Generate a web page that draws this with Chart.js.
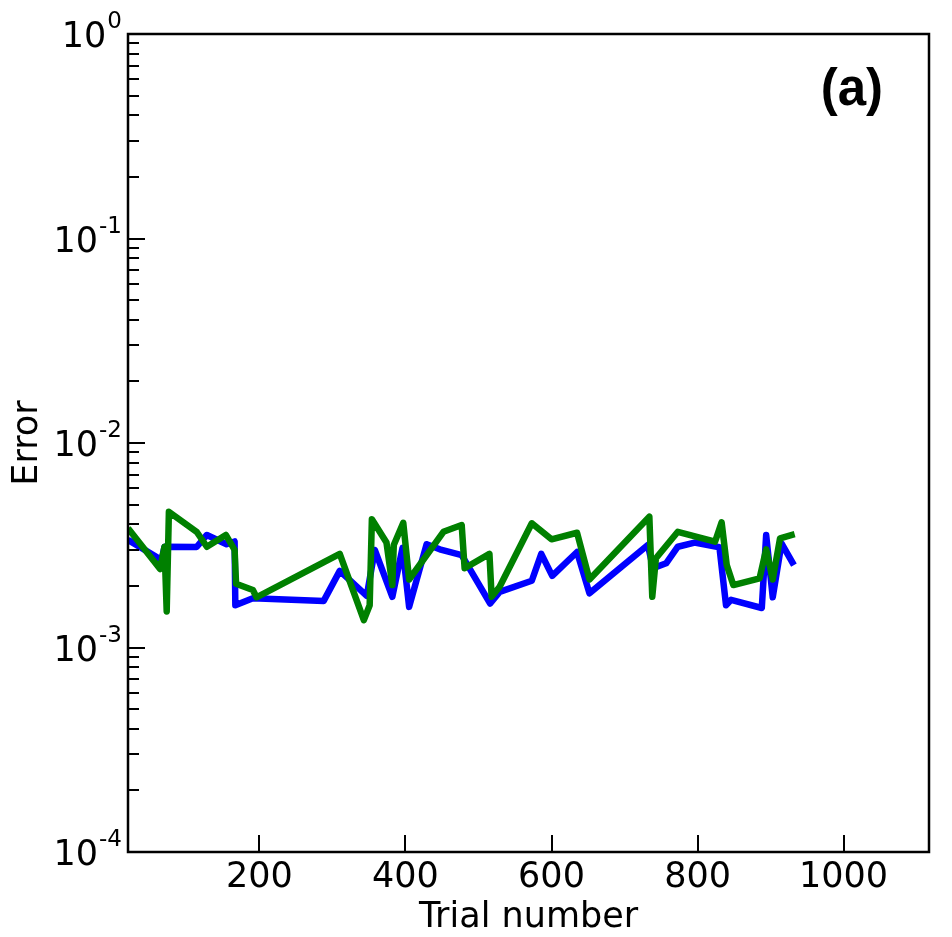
<!DOCTYPE html>
<html lang="en">
<head>
    <title>Error vs trial number</title>
    <script src="https://cdn.jsdelivr.net/npm/chart.js"></script>
    <style>
        body { margin: 0; background: #fff; }
        canvas { display: block; }
    </style>
</head>
<body>
    <canvas id="myChart" width="952" height="937"></canvas>
    <script>
        // values
        const blueTrials = [20, 66, 70, 114, 128, 155, 166, 167, 191, 288, 310, 347, 358, 382, 396, 405, 429, 447, 477, 516,
            529, 573, 586, 601, 635, 652, 732, 739, 757, 773, 796, 830, 839, 846, 888, 894, 903, 915, 932];
        const blueError = [3.36e-3, 2.68e-3, 3.11e-3, 3.1e-3, 3.55e-3, 3.2e-3, 3.3e-3, 1.61e-3, 1.74e-3, 1.69e-3,
            2.37e-3, 1.79e-3, 3.0e-3, 1.77e-3, 3.07e-3, 1.58e-3, 3.2e-3, 3.02e-3, 2.83e-3, 1.64e-3,
            1.87e-3, 2.12e-3, 2.87e-3, 2.24e-3, 2.93e-3, 1.84e-3, 3.17e-3, 2.44e-3, 2.58e-3, 3.11e-3,
            3.26e-3, 3.09e-3, 1.61e-3, 1.71e-3, 1.56e-3, 3.55e-3, 1.76e-3, 3.23e-3, 2.53e-3];

        const greenTrials = [20, 64, 70, 73, 76, 114, 128, 154, 166, 168, 191, 196, 310, 343, 351, 354, 374, 382, 384, 397,
            405, 452, 477, 481, 515, 518, 529, 573, 600, 635, 652, 734, 738, 743, 773, 824, 833, 840, 849, 885,
            894, 903, 913, 933];
        const greenError = [3.83e-3, 2.42e-3, 3.11e-3, 1.5e-3, 4.61e-3, 3.68e-3, 3.11e-3, 3.55e-3, 3.0e-3, 2.05e-3,
            1.91e-3, 1.76e-3, 2.87e-3, 1.36e-3, 1.61e-3, 4.24e-3, 3.26e-3, 2.02e-3, 3.17e-3, 4.07e-3,
            2.15e-3, 3.68e-3, 3.97e-3, 2.44e-3, 2.87e-3, 1.77e-3, 1.98e-3, 4.05e-3, 3.38e-3, 3.64e-3,
            2.15e-3, 4.36e-3, 1.77e-3, 2.73e-3, 3.68e-3, 3.29e-3, 4.09e-3, 2.53e-3, 2.02e-3, 2.18e-3,
            3.02e-3, 2.15e-3, 3.42e-3, 3.58e-3];

        const xTicks = [200, 400, 600, 800, 1000];
        const yExponents = [-4, -3, -2, -1, 0];
        const xTitle = 'Trial number';
        const yTitle = 'Error';
        const panelLabel = '(a)';

        function toPoints(xs, ys) {
            return xs.map((x, i) => ({ x: x, y: ys[i] }));
        }

        // frame, inward ticks and all axis text, placed through the chart's scales
        const axesPlugin = {
            id: 'axesPlugin',
            afterDraw(chart) {
                const ctx = chart.ctx;
                const area = chart.chartArea;
                const xs = chart.scales.x;
                const ys = chart.scales.y;
                ctx.save();
                ctx.strokeStyle = '#000';
                ctx.fillStyle = '#000';
                ctx.lineWidth = 2.5;
                ctx.strokeRect(area.left, area.top, area.right - area.left, area.bottom - area.top);

                ctx.lineWidth = 2;
                ctx.beginPath();
                xTicks.forEach(v => {
                    const px = Math.round(xs.getPixelForValue(v));
                    ctx.moveTo(px, area.bottom);
                    ctx.lineTo(px, area.bottom - 17);
                });
                yExponents.forEach(k => {
                    const py = Math.round(ys.getPixelForValue(Math.pow(10, k)));
                    ctx.moveTo(area.left, py);
                    ctx.lineTo(area.left + 17, py);
                    if (k < 0) {
                        for (let m = 2; m <= 9; m++) {
                            const pm = Math.round(ys.getPixelForValue(m * Math.pow(10, k)));
                            ctx.moveTo(area.left, pm);
                            ctx.lineTo(area.left + 11, pm);
                        }
                    }
                });
                ctx.stroke();

                // x tick labels
                ctx.font = '35px "DejaVu Sans"';
                ctx.textAlign = 'center';
                ctx.textBaseline = 'alphabetic';
                xTicks.forEach(v => {
                    ctx.fillText(String(v), xs.getPixelForValue(v), area.bottom + 35);
                });

                // y tick labels as 10 with a raised exponent
                yExponents.forEach(k => {
                    const py = ys.getPixelForValue(Math.pow(10, k));
                    const exp = String(k);
                    ctx.textAlign = 'right';
                    ctx.font = '23px "DejaVu Sans"';
                    const ew = ctx.measureText(exp).width;
                    ctx.fillText(exp, area.left - 6, py - 6);
                    ctx.font = '35px "DejaVu Sans"';
                    ctx.fillText('10', area.left - 6 - ew - 1, py + 13);
                });

                // axis titles
                ctx.font = '35px "DejaVu Sans"';
                ctx.textAlign = 'center';
                ctx.fillText(xTitle, (area.left + area.right) / 2, area.bottom + 75);
                ctx.save();
                ctx.translate(37, (area.top + area.bottom) / 2);
                ctx.rotate(-Math.PI / 2);
                ctx.fillText(yTitle, 0, 0);
                ctx.restore();

                // panel label
                ctx.font = 'bold 51px "Liberation Sans"';
                ctx.textAlign = 'right';
                ctx.fillText(panelLabel, area.right - 46, area.top + 71);
                ctx.restore();
            }
        };

        const ctx = document.getElementById('myChart').getContext('2d');
        const chart = new Chart(ctx, {
            type: 'line',
            data: {
                datasets: [{
                    label: 'blue',
                    data: toPoints(blueTrials, blueError),
                    borderColor: '#0000ff',
                    borderWidth: 6.5,
                    pointRadius: 0,
                    borderJoinStyle: 'round',
                    tension: 0,
                    order: 2
                }, {
                    label: 'green',
                    data: toPoints(greenTrials, greenError),
                    borderColor: '#008000',
                    borderWidth: 6.5,
                    pointRadius: 0,
                    borderJoinStyle: 'round',
                    tension: 0,
                    order: 1
                }]
            },
            options: {
                responsive: false,
                animation: false,
                devicePixelRatio: 1,
                layout: {
                    padding: { left: 128, top: 34, right: 23, bottom: 85 }
                },
                plugins: {
                    legend: { display: false },
                    tooltip: { enabled: false }
                },
                scales: {
                    x: {
                        type: 'linear',
                        min: 20,
                        max: 1117,
                        display: false
                    },
                    y: {
                        type: 'logarithmic',
                        min: 1e-4,
                        max: 1,
                        display: false
                    }
                }
            },
            plugins: [axesPlugin]
        });
    </script>
</body>
</html>
